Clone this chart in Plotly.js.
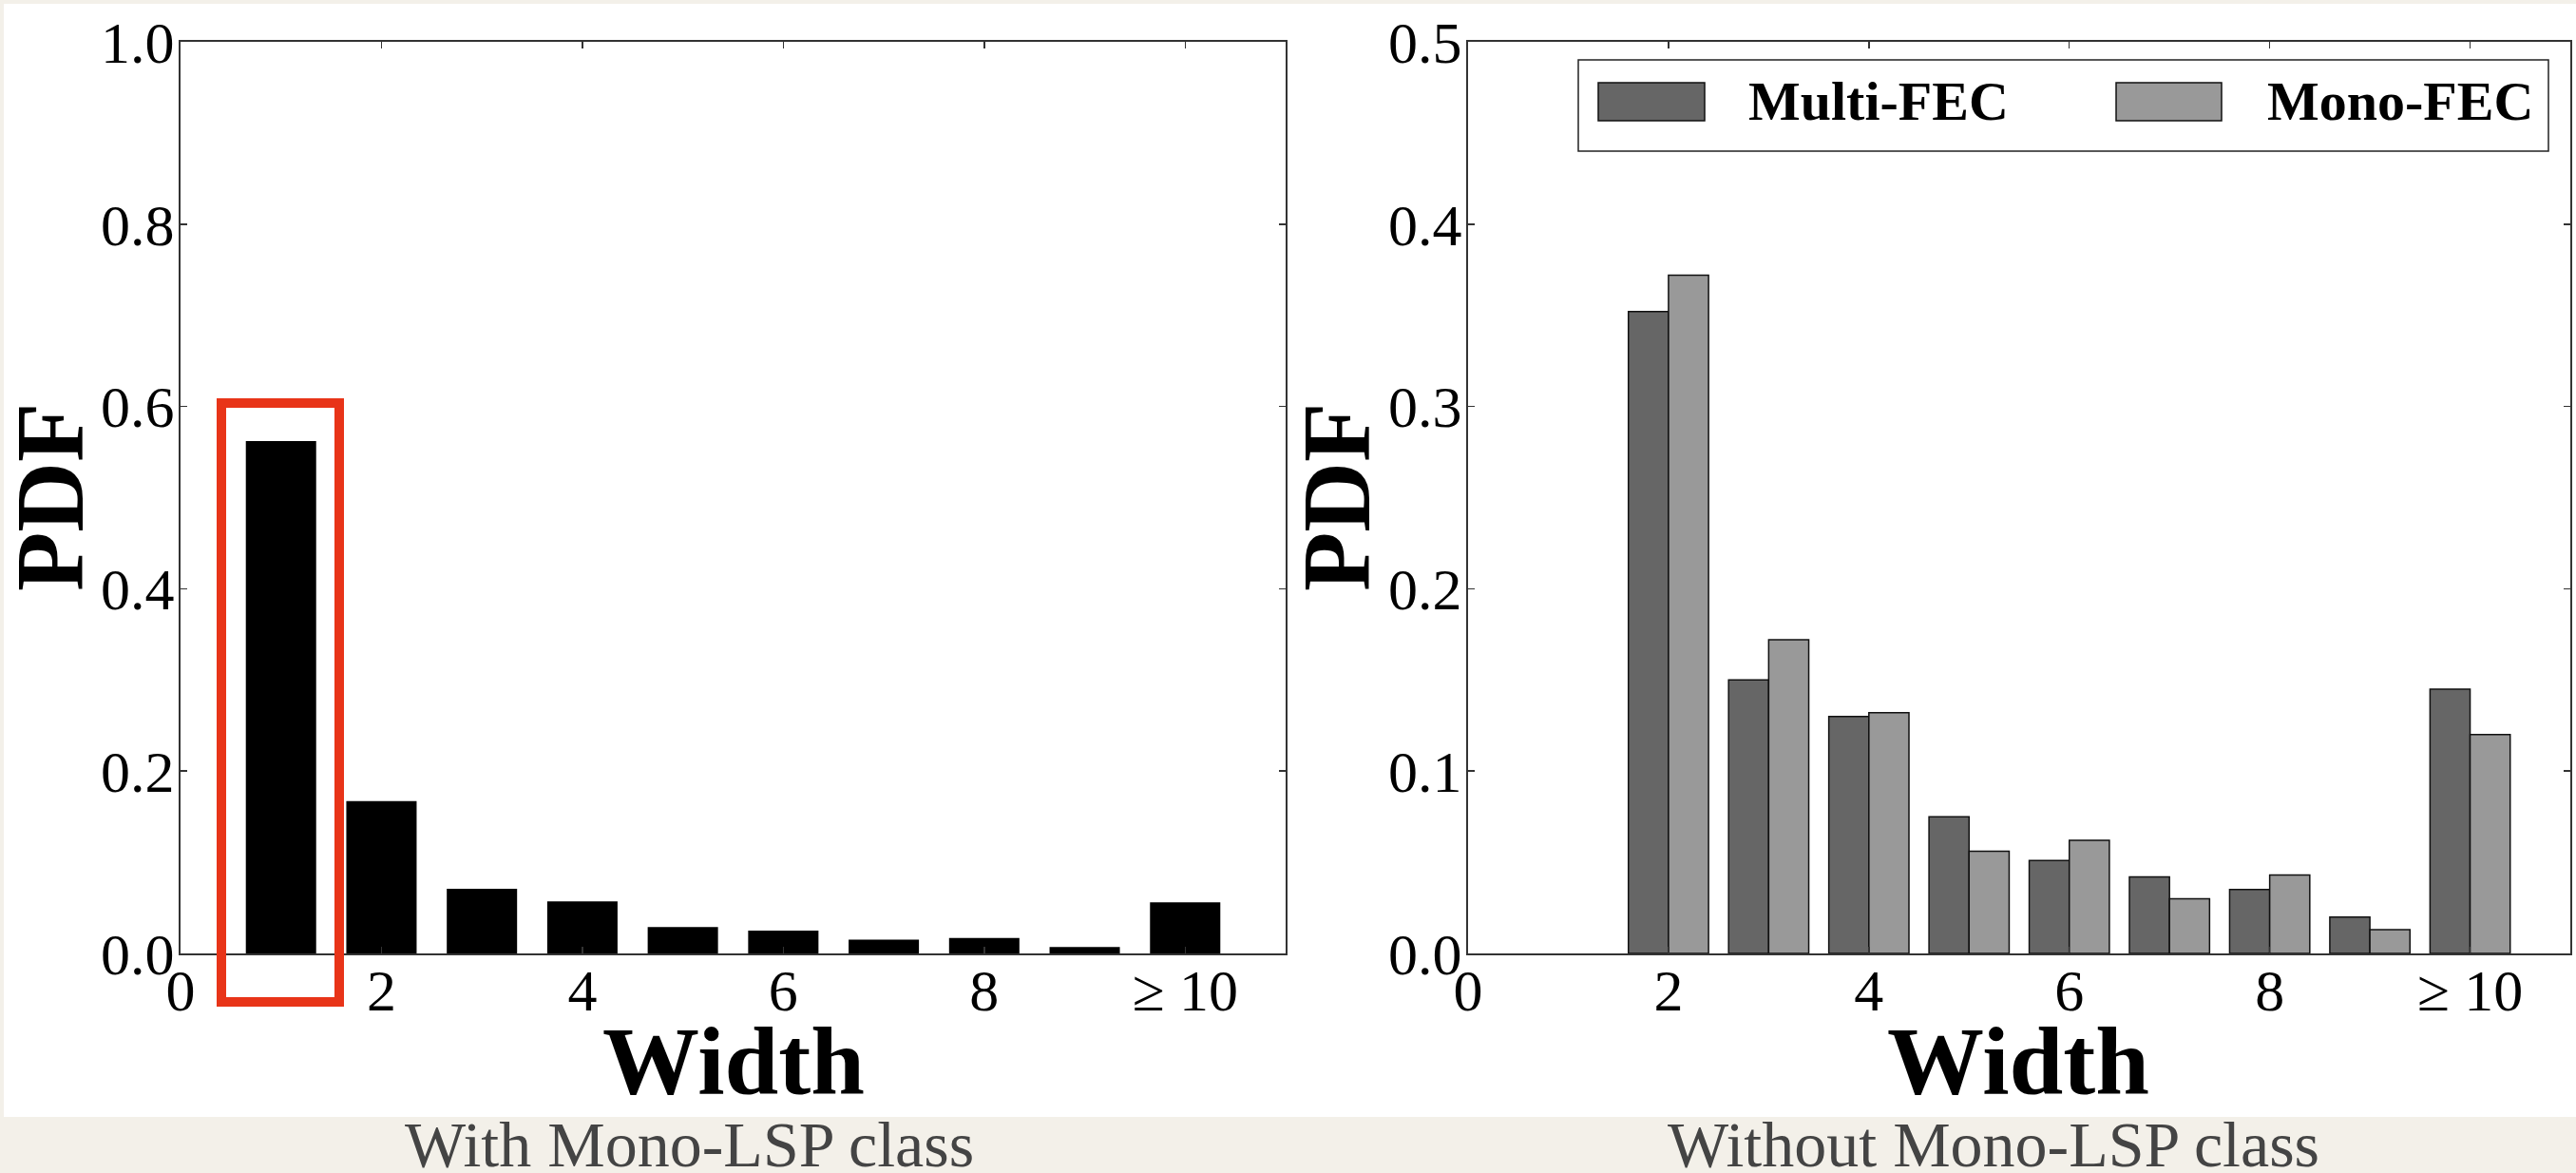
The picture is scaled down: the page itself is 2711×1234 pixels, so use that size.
<!DOCTYPE html>
<html>
<head>
<meta charset="utf-8">
<script src="https://cdn.plot.ly/plotly-3.0.1.min.js"></script>
<style>
html,body{margin:0;padding:0;background:#f3f0e9;}
#chart{width:2711px;height:1234px;}
</style>
</head>
<body>
<div id="chart"></div>
<script>
// ---- data ----
const widths = [1, 2, 3, 4, 5, 6, 7, 8, 9, 10];
const pdfWithMonoLSP = [0.562, 0.167, 0.071, 0.057, 0.029, 0.025, 0.015, 0.017, 0.007, 0.056];
const pdfMultiFEC = [null, 0.352, 0.150, 0.130, 0.075, 0.051, 0.042, 0.035, 0.020, 0.145];
const pdfMonoFEC  = [null, 0.372, 0.172, 0.132, 0.056, 0.062, 0.030, 0.043, 0.013, 0.120];
const xTickVals = [0, 2, 4, 6, 8, 10];
const xTickText = ['0', '2', '4', '6', '8', '≥ 10'];
const leftYTicks = [0, 0.2, 0.4, 0.6, 0.8, 1.0];
const rightYTicks = [0, 0.1, 0.2, 0.3, 0.4, 0.5];
const seriesNames = ['Multi-FEC', 'Mono-FEC'];
const captions = ['With Mono-LSP class', 'Without Mono-LSP class'];
const xTitle = 'Width';
const yTitle = 'PDF';

// ---- layout helpers ----
const W = 2711, H = 1234;
const px = x => x / W;
const py = y => 1 - y / H;

const SERIF = 'Liberation Serif, Times New Roman, serif';
const seriesColors = ['#666666', '#999999'];

const traces = [
  {
    type: 'bar', x: widths, y: pdfWithMonoLSP, xaxis: 'x', yaxis: 'y',
    width: 0.7, marker: {color: '#000000', line: {width: 0}},
    showlegend: false
  },
  {
    type: 'bar', name: seriesNames[0], x: widths, y: pdfMultiFEC, xaxis: 'x2', yaxis: 'y2',
    width: 0.4, offset: -0.4,
    marker: {color: seriesColors[0], line: {color: '#111111', width: 1.5}},
    showlegend: false
  },
  {
    type: 'bar', name: seriesNames[1], x: widths, y: pdfMonoFEC, xaxis: 'x2', yaxis: 'y2',
    width: 0.4, offset: 0,
    marker: {color: seriesColors[1], line: {color: '#111111', width: 1.5}},
    showlegend: false
  }
];

function axisBase() {
  return {
    showline: true, linecolor: '#333333', linewidth: 2, mirror: 'ticks',
    ticks: 'inside', ticklen: 7, tickwidth: 1.5, tickcolor: '#333333',
    showgrid: false, zeroline: false, automargin: false, fixedrange: true,
    tickfont: {family: SERIF, size: 62, color: '#000000'}
  };
}

function xAxis(dom, anchor) {
  return Object.assign(axisBase(), {
    domain: dom, anchor: anchor, range: [0, 11],
    tickmode: 'array', tickvals: xTickVals, ticktext: xTickText,
    ticklabelstandoff: -16
  });
}
function yAxis(dom, anchor, range, tv) {
  return Object.assign(axisBase(), {
    domain: dom, anchor: anchor, range: range,
    tickmode: 'array', tickvals: tv, tickformat: '.1f',
    ticklabelstandoff: -8
  });
}

const yDom = [py(1003), py(44)];

const shapes = [
  // white sheet
  {type: 'rect', xref: 'paper', yref: 'paper', x0: px(4), x1: 1, y0: py(1175), y1: py(4),
   fillcolor: '#ffffff', line: {width: 0}, layer: 'below'},
  // red highlight box around the width-1 bar
  {type: 'rect', xref: 'paper', yref: 'paper', x0: px(233), x1: px(357), y0: py(1054), y1: py(424),
   line: {color: '#e83418', width: 10}, fillcolor: 'rgba(0,0,0,0)', layer: 'above'},
  // legend frame
  {type: 'rect', xref: 'paper', yref: 'paper', x0: px(1661), x1: px(2682), y0: py(159), y1: py(63),
   line: {color: '#222222', width: 1.5}, fillcolor: '#ffffff', layer: 'above'},
  // legend patches
  {type: 'rect', xref: 'paper', yref: 'paper', x0: px(1682), x1: px(1794), y0: py(127), y1: py(87),
   line: {color: '#111111', width: 1.5}, fillcolor: seriesColors[0], layer: 'above'},
  {type: 'rect', xref: 'paper', yref: 'paper', x0: px(2227), x1: px(2338), y0: py(127), y1: py(87),
   line: {color: '#111111', width: 1.5}, fillcolor: seriesColors[1], layer: 'above'}
];

const titleFont = {family: SERIF, size: 102, color: '#000000'};
const annotations = [
  // legend labels
  {xref: 'paper', yref: 'paper', x: px(1838), y: py(107), xanchor: 'left', yanchor: 'middle',
   text: '<b>' + seriesNames[0] + '</b>', showarrow: false, font: {family: SERIF, size: 58, color: '#000000'}},
  {xref: 'paper', yref: 'paper', x: px(2384), y: py(107), xanchor: 'left', yanchor: 'middle',
   text: '<b>' + seriesNames[1] + '</b>', showarrow: false, font: {family: SERIF, size: 58, color: '#000000'}},
  // axis titles
  {xref: 'paper', yref: 'paper', x: px(772), y: py(1116), xanchor: 'center', yanchor: 'middle',
   text: '<b>' + xTitle + '</b>', showarrow: false, font: titleFont},
  {xref: 'paper', yref: 'paper', x: px(2124), y: py(1116), xanchor: 'center', yanchor: 'middle',
   text: '<b>' + xTitle + '</b>', showarrow: false, font: titleFont},
  {xref: 'paper', yref: 'paper', x: px(52), y: py(523), xanchor: 'center', yanchor: 'middle', textangle: -90,
   text: '<b>' + yTitle + '</b>', showarrow: false, font: titleFont},
  {xref: 'paper', yref: 'paper', x: px(1406), y: py(523), xanchor: 'center', yanchor: 'middle', textangle: -90,
   text: '<b>' + yTitle + '</b>', showarrow: false, font: titleFont},
  // captions
  {xref: 'paper', yref: 'paper', x: px(725), y: py(1204), xanchor: 'center', yanchor: 'middle',
   text: captions[0], showarrow: false, font: {family: SERIF, size: 68, color: '#444444'}},
  {xref: 'paper', yref: 'paper', x: px(2098), y: py(1204), xanchor: 'center', yanchor: 'middle',
   text: captions[1], showarrow: false, font: {family: SERIF, size: 68, color: '#444444'}}
];

const layout = {
  width: W, height: H,
  margin: {l: 0, r: 0, t: 0, b: 0, pad: 0},
  paper_bgcolor: '#f3f0e9', plot_bgcolor: '#ffffff',
  barmode: 'overlay',
  showlegend: false,
  xaxis: xAxis([px(190), px(1353)], 'y'),
  yaxis: yAxis(yDom, 'x', [0, 1.0], leftYTicks),
  xaxis2: xAxis([px(1545), px(2705)], 'y2'),
  yaxis2: yAxis(yDom, 'x2', [0, 0.5], rightYTicks),
  shapes: shapes,
  annotations: annotations
};

Plotly.newPlot('chart', traces, layout, {displayModeBar: false, staticPlot: true});
</script>
</body>
</html>
